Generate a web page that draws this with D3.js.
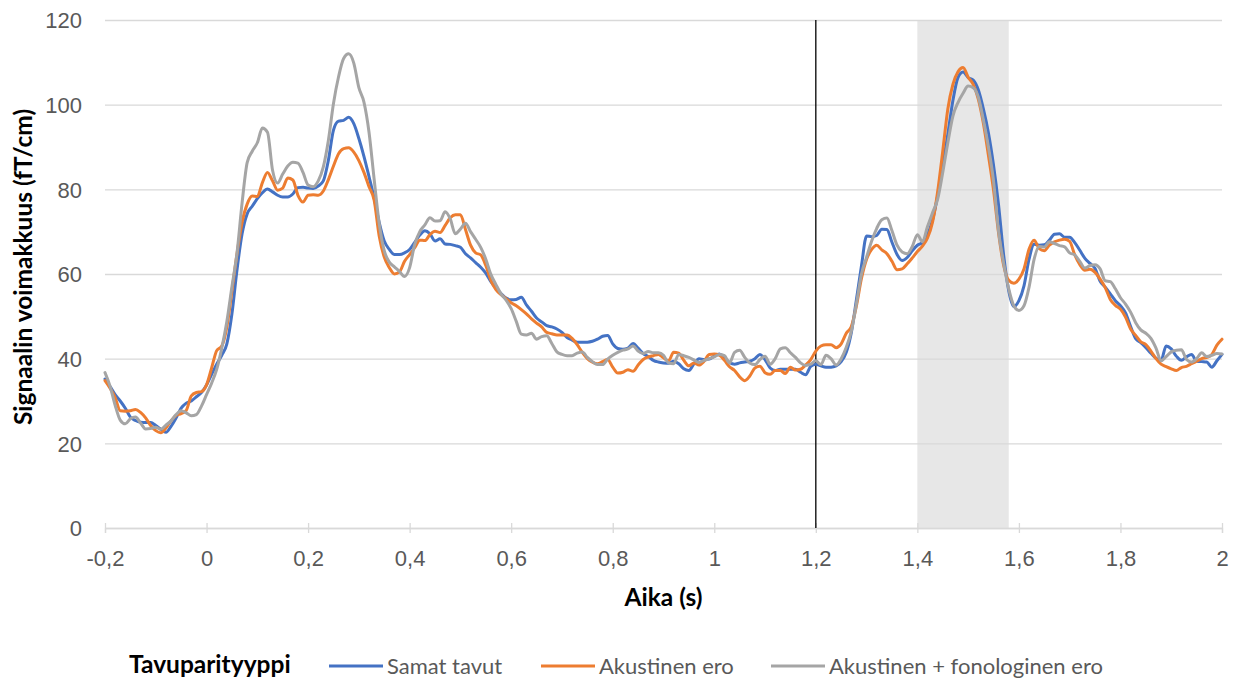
<!DOCTYPE html>
<html><head><meta charset="utf-8">
<script src="https://cdn.jsdelivr.net/npm/d3@7"></script>
<style>
html,body{margin:0;padding:0;background:#fff;}
svg{display:block;font-family:Lato,"Open Sans",sans-serif;}
</style></head>
<body>
<svg id="chart" width="1238" height="680"></svg>
<script>
// ---- data ----
const tStart = -0.2, tStep = 0.01;   // sampling of the time axis (s)
const xTicks = [-0.2, 0, 0.2, 0.4, 0.6, 0.8, 1, 1.2, 1.4, 1.6, 1.8, 2];
const xTickLabels = ["-0,2", "0", "0,2", "0,4", "0,6", "0,8", "1", "1,2", "1,4", "1,6", "1,8", "2"];
const yTicks = [0, 20, 40, 60, 80, 100, 120];
const seriesNames = ["Samat tavut", "Akustinen ero", "Akustinen + fonologinen ero"];
const legendTitle = "Tavuparityyppi";
const xTitle = "Aika (s)";
const yTitle = "Signaalin voimakkuus (fT/cm)";
const stimulusLine = 1.2;
const shadedWindow = [1.4, 1.58];

const samatTavut = [
35.2,33.4,31.5,30.0,28.3,26.2,25.4,25.0,24.9,24.9,
24.2,23.3,22.6,24.0,26.0,28.3,29.5,30.0,31.0,32.0,
33.8,36.3,38.7,40.8,43.5,50.6,61.0,69.5,74.2,76.0,
77.8,79.2,80.1,79.4,78.6,78.2,78.2,78.9,80.4,80.5,
80.3,80.2,80.8,82.0,86.9,94.0,96.1,96.3,97.0,95.5,
92.0,87.8,83.0,78.0,72.2,67.8,65.8,64.6,64.6,65.0,
65.8,67.5,69.2,70.2,69.5,67.8,68.3,67.1,67.0,66.7,
66.3,64.8,63.8,62.7,61.6,60.2,58.2,56.7,55.4,54.3,
53.9,54.0,54.5,52.7,51.2,49.6,48.7,47.8,47.5,47.0,
46.2,45.0,44.4,43.9,43.9,43.9,44.1,44.6,45.3,45.5,
43.5,42.4,42.2,42.5,43.6,42.5,41.2,40.5,39.6,39.2,
39.0,38.9,39.4,38.8,37.6,37.2,38.8,40.0,39.8,39.9,
40.6,41.1,40.2,39.1,38.7,39.0,39.2,39.4,40.0,41.0,
39.8,37.8,37.2,37.5,37.5,37.5,37.5,36.8,36.2,38.2,
38.7,38.3,38.0,38.0,38.3,39.3,41.5,46.2,54.0,62.0,
69.0,68.8,69.1,70.6,70.5,67.5,64.6,63.2,63.9,65.5,
66.8,67.4,69.3,72.8,78.5,85.6,93.0,101.0,106.4,107.7,
106.4,105.8,103.5,99.0,93.3,85.7,76.2,64.4,56.0,52.3,
53.7,57.2,63.5,67.0,66.8,66.9,68.0,69.4,69.5,68.7,
68.7,67.4,65.6,63.7,62.5,61.3,58.3,56.9,55.3,53.7,
52.5,50.8,47.6,44.7,43.8,42.6,41.3,40.1,39.6,43.0,
42.3,40.6,39.6,40.4,41.0,39.4,39.3,39.2,38.0,39.5,
41.0];

const akustinenEro = [
34.8,33.0,30.8,27.7,27.6,27.7,28.0,27.3,26.0,24.2,
23.0,22.5,23.6,25.3,26.6,27.0,27.8,31.2,32.0,32.2,
33.8,37.8,41.9,43.0,47.5,56.0,64.8,72.2,76.5,78.4,
78.3,81.6,84.0,82.0,79.8,80.3,82.7,82.2,78.6,77.0,
78.6,78.7,78.6,79.6,82.3,85.5,88.4,89.6,89.8,88.8,
86.8,84.0,80.6,77.5,69.0,64.0,61.5,60.0,60.5,63.0,
64.6,66.2,68.0,67.9,69.3,70.1,69.8,71.5,73.3,74.0,
74.0,70.5,66.8,65.0,64.5,62.0,58.5,56.3,55.1,54.2,
53.2,52.5,51.6,50.6,49.4,48.4,47.5,46.2,45.9,45.6,
45.6,45.6,44.8,43.3,41.5,40.0,39.2,38.8,39.3,39.8,
38.0,36.6,36.8,37.4,37.0,38.5,39.8,40.4,40.7,41.0,
40.2,39.5,41.5,41.3,39.6,38.3,39.0,38.5,39.4,41.0,
41.1,40.8,39.6,38.1,37.2,35.7,34.8,35.9,37.8,38.2,
36.7,36.3,37.2,37.2,36.5,38.0,37.3,37.5,38.5,39.8,
41.8,43.0,43.3,43.3,42.6,43.5,46.0,47.6,52.5,59.0,
63.5,65.8,66.8,65.7,64.8,63.0,61.0,61.2,62.4,63.8,
65.3,66.6,68.5,72.3,79.5,89.0,99.0,104.8,107.8,108.8,
106.5,104.8,101.3,95.6,88.0,79.8,69.6,62.0,58.5,57.8,
58.8,61.2,65.9,68.0,66.0,65.5,66.8,67.6,68.0,68.2,
67.7,64.5,62.2,60.9,61.1,60.4,58.8,56.8,54.0,52.6,
51.7,49.8,47.0,45.5,44.0,43.3,41.8,40.0,38.7,38.1,
37.6,37.2,37.9,38.2,38.8,39.4,40.0,40.3,41.0,43.2,
44.6];

const fonologinenEro = [
36.7,33.5,29.0,25.5,24.6,25.8,26.2,24.8,23.4,23.5,
23.8,23.3,24.3,25.3,26.8,27.7,27.2,26.5,26.8,28.8,
31.5,34.2,37.5,42.5,48.8,57.0,65.0,76.8,86.3,89.0,
91.0,94.5,93.5,84.5,81.5,83.6,85.5,86.4,86.2,84.0,
81.0,80.6,82.0,85.3,91.6,100.3,106.6,110.9,112.0,109.8,
104.0,100.6,93.5,82.5,72.0,65.5,62.8,61.7,60.6,59.4,
61.5,67.0,70.0,71.6,73.3,72.5,72.6,74.7,73.0,69.5,
70.6,72.0,70.0,68.2,66.3,63.5,59.9,57.5,55.3,53.8,
51.8,48.8,45.8,45.6,46.0,44.6,45.2,45.4,43.6,41.6,
41.0,40.7,40.7,41.3,41.6,40.3,39.3,38.6,38.6,39.9,
40.8,41.5,42.0,42.3,43.0,41.8,41.2,41.7,41.4,41.4,
40.8,39.0,38.8,41.0,40.7,40.3,39.7,39.1,39.6,40.0,
40.4,41.0,40.7,39.0,41.5,42.0,40.3,39.0,38.6,39.8,
40.6,38.7,40.0,42.3,42.6,41.4,40.3,39.0,38.4,38.7,
39.5,38.6,40.8,40.0,38.5,40.0,42.7,46.5,53.0,60.0,
64.0,67.8,70.8,72.8,73.2,70.2,66.8,65.2,64.8,66.5,
69.3,67.6,71.2,74.5,77.7,84.0,91.0,97.3,100.5,102.7,
104.4,104.0,101.8,96.4,90.0,82.0,70.0,62.5,56.5,52.5,
51.4,52.5,56.9,63.5,66.5,66.4,67.6,67.2,66.7,66.4,
65.0,64.5,63.0,61.4,62.0,62.2,61.2,58.4,58.2,56.5,
54.4,52.9,51.0,48.5,46.8,46.0,44.8,42.5,39.5,40.5,
41.6,42.0,42.1,39.8,39.2,40.0,41.4,40.5,40.8,41.2,
41.1];

const seriesValues = [samatTavut, akustinenEro, fonologinenEro];
const seriesColors = ["#4472C4", "#ED7D31", "#A5A5A5"];

// ---- chart ----
const svg = d3.select("#chart");
const W = 1238, H = 680;
const m = {left: 105, right: 1238 - 1222, top: 20, bottom: 680 - 528};

const x = d3.scaleLinear().domain([-0.2, 2]).range([m.left, W - m.right]);
const y = d3.scaleLinear().domain([0, 120]).range([H - m.bottom, m.top]);

const tickFont = "22px";
const titleFont = "24.5px";
const textGrey = "#595959";

// shaded window
svg.append("rect")
  .attr("x", x(shadedWindow[0])).attr("y", y(120))
  .attr("width", x(shadedWindow[1]) - x(shadedWindow[0]))
  .attr("height", y(0) - y(120))
  .attr("fill", "#E7E7E7");

// horizontal gridlines (y axis)
const yAxis = d3.axisLeft(y).tickValues(yTicks).tickSize(-(x(2) - x(-0.2))).tickPadding(23)
  .tickFormat(d3.format("d"));
const gy = svg.append("g").attr("transform", `translate(${m.left},0)`).call(yAxis);
gy.select(".domain").remove();
gy.selectAll(".tick line").attr("stroke", "#D9D9D9").attr("stroke-width", 1.3);
gy.selectAll(".tick text").attr("fill", textGrey).style("font-size", tickFont).attr("dy", "0.35em");

// x axis
const xAxis = d3.axisBottom(x).tickValues(xTicks).tickSize(5)
  .tickFormat((d, i) => xTickLabels[i]);
const gx = svg.append("g").attr("transform", `translate(0,${y(0)})`).call(xAxis);
gx.select(".domain").attr("stroke", "#D9D9D9").attr("stroke-width", 1.3);
gx.selectAll(".tick line").attr("stroke", "#D9D9D9").attr("stroke-width", 1.3).attr("y1", -5);
gx.selectAll(".tick text").attr("fill", textGrey).style("font-size", tickFont)
  .attr("y", 38).attr("dy", 0);

// stimulus onset line
svg.append("line")
  .attr("x1", x(stimulusLine)).attr("x2", x(stimulusLine))
  .attr("y1", y(120)).attr("y2", y(0))
  .attr("stroke", "#000").attr("stroke-width", 1.3);

// series lines
const line = d3.line()
  .x((d, i) => x(tStart + i * tStep))
  .y(d => y(d))
  .curve(d3.curveMonotoneX);

seriesValues.forEach((vals, k) => {
  svg.append("path")
    .datum(vals)
    .attr("d", line)
    .attr("fill", "none")
    .attr("stroke", seriesColors[k])
    .attr("stroke-width", 3)
    .attr("stroke-linejoin", "round")
    .attr("stroke-linecap", "round");
});

// axis titles
svg.append("text")
  .attr("x", (x(-0.2) + x(2)) / 2).attr("y", 606)
  .attr("text-anchor", "middle")
  .style("font-size", titleFont).style("font-weight", "bold").attr("fill", "#000")
  .text(xTitle);

svg.append("text")
  .attr("transform", `translate(32,267) rotate(-90)`)
  .attr("text-anchor", "middle")
  .style("font-size", titleFont).style("font-weight", "bold").attr("fill", "#000")
  .text(yTitle);

// legend
const legY = 666;
svg.append("text")
  .attr("x", 129).attr("y", legY + 7)
  .style("font-size", titleFont).style("font-weight", "bold").attr("fill", "#000")
  .text(legendTitle);

const legendStarts = [329, 541, 771];
seriesNames.forEach((name, k) => {
  const g = svg.append("g").attr("transform", `translate(${legendStarts[k]},${legY})`);
  g.append("line").attr("x1", 0).attr("x2", 54).attr("y1", 0).attr("y2", 0)
    .attr("stroke", seriesColors[k]).attr("stroke-width", 3);
  g.append("text").attr("x", 58).attr("y", 8)
    .style("font-size", tickFont).attr("fill", textGrey)
    .text(name);
});
</script>
</body></html>
